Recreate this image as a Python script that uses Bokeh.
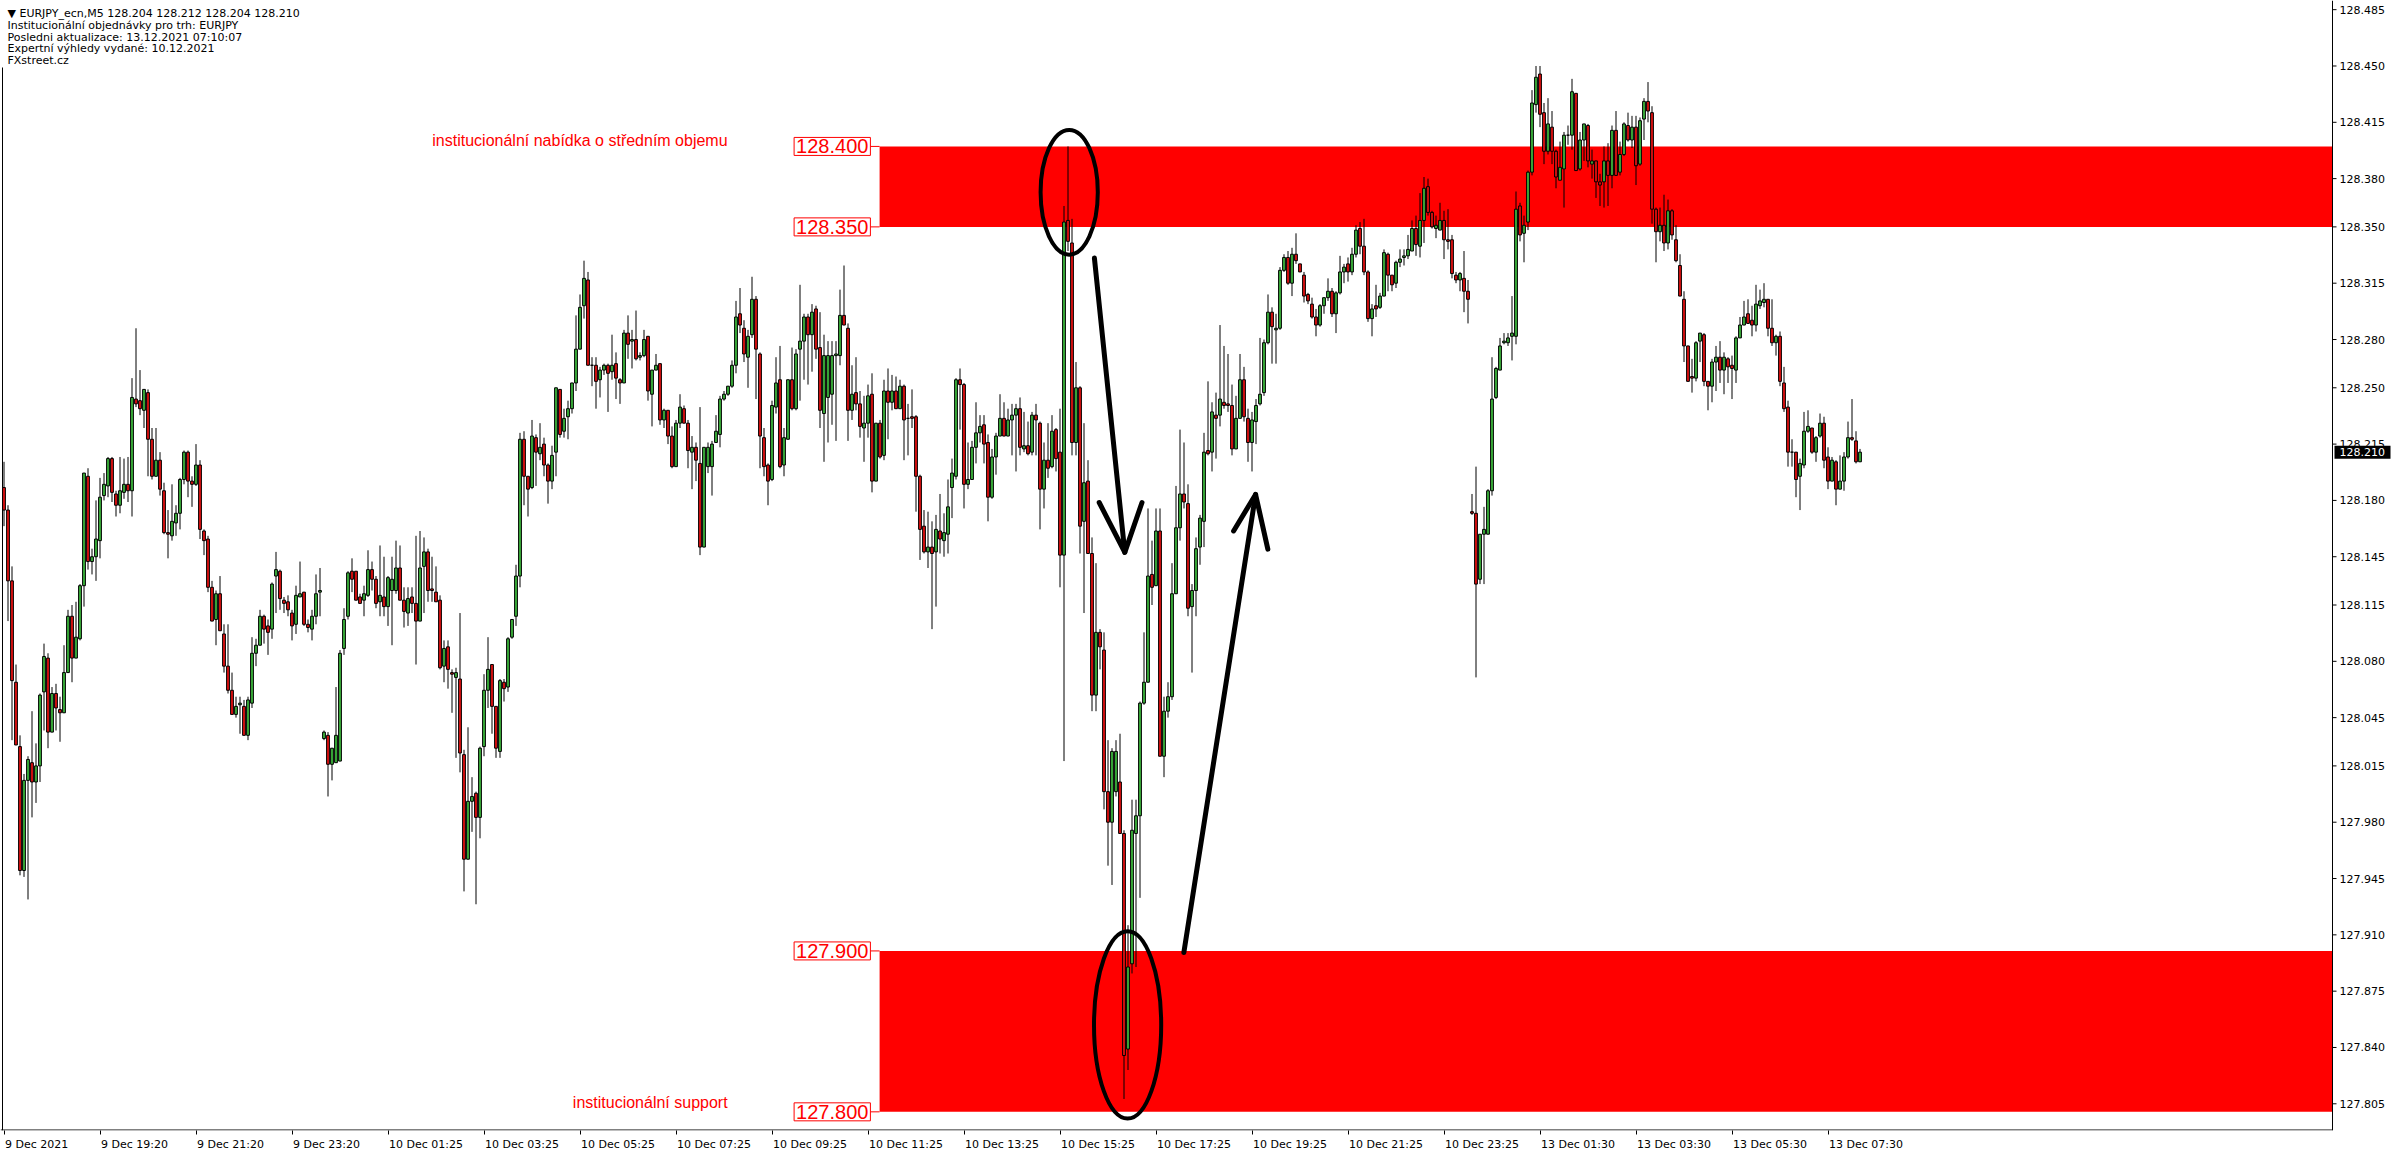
from bokeh.plotting import figure
from bokeh.models import ColumnDataSource, FixedTicker, Label, BoxAnnotation, Range1d
from bokeh.embed import file_html
from bokeh.resources import INLINE
from bokeh.core.properties import value

# ---------------- data (EURJPY M5) ----------------
opens = [
128.188,128.174,128.130,128.067,128.027,127.950,128.006,128.017,128.005,128.015,
128.061,128.082,128.036,128.060,128.050,128.048,128.073,128.108,128.082,128.094,
128.127,128.195,128.142,128.145,128.155,128.183,128.189,128.206,128.184,128.177,
128.185,128.190,128.186,128.243,128.242,128.236,128.247,128.218,128.195,128.205,
128.186,128.160,128.158,128.166,128.172,128.193,128.210,128.192,128.190,128.202,
128.161,128.156,128.126,128.106,128.122,128.097,128.077,128.062,128.047,128.053,
128.052,128.034,128.054,128.085,128.090,128.108,128.102,128.100,128.133,128.136,
128.118,128.117,128.110,128.103,128.120,128.123,128.103,128.100,128.108,128.123,
128.032,128.034,128.016,128.017,128.018,128.088,128.108,128.136,128.136,128.120,
128.118,128.121,128.137,128.131,128.117,128.120,128.114,128.124,128.124,128.138,
128.118,128.110,128.120,128.116,128.105,128.139,128.148,128.125,128.123,128.118,
128.077,128.089,128.073,128.070,128.069,128.022,127.957,127.993,127.998,127.983,
128.027,128.062,128.078,128.052,128.024,128.067,128.064,128.095,128.108,128.133,
128.218,128.195,128.188,128.219,128.209,128.215,128.202,128.192,128.210,128.249,
128.223,128.232,128.237,128.253,128.274,128.301,128.317,128.264,128.264,128.255,
128.261,128.264,128.260,128.265,128.255,128.253,128.284,128.279,128.280,128.269,
128.270,128.282,128.246,128.261,128.265,128.230,128.236,128.220,128.201,128.228,
128.237,128.228,128.210,128.213,128.203,128.151,128.201,128.201,128.216,128.221,
128.243,128.246,128.251,128.264,128.296,128.287,128.269,128.283,128.305,128.271,
128.219,128.202,128.193,128.238,128.255,128.202,128.218,128.255,128.237,128.274,
128.279,128.294,128.283,128.299,128.275,128.234,128.244,128.246,128.270,128.270,
128.295,128.287,128.236,128.247,128.240,128.225,128.228,128.246,128.192,128.228,
128.208,128.248,128.241,128.248,128.237,128.251,128.231,128.232,128.232,128.195,
128.164,128.148,128.151,128.148,128.161,128.155,128.159,128.188,128.195,128.255,
128.252,128.190,128.193,128.213,128.222,128.227,128.216,128.182,128.207,128.220,
128.231,128.220,128.230,128.233,128.237,128.212,128.214,128.210,128.233,128.228,
128.187,128.205,128.201,128.224,128.210,128.146,128.354,128.340,128.216,128.250,
128.167,128.192,128.147,128.059,128.098,128.087,127.999,127.980,127.999,128.005,
127.973,127.839,127.892,127.973,127.984,128.054,128.067,128.134,128.127,128.161,
128.021,128.049,128.058,128.122,128.163,128.184,128.178,128.114,128.124,128.151,
128.167,128.211,128.210,128.233,128.233,128.241,128.240,128.239,128.212,128.231,
128.255,128.231,128.216,128.229,128.240,128.247,128.278,128.297,128.286,128.287,
128.323,128.331,128.315,128.333,128.327,128.320,128.308,128.302,128.294,128.289,
128.301,128.306,128.310,128.296,128.309,128.322,128.327,128.322,128.333,128.349,
128.338,128.322,128.293,128.301,128.300,128.307,128.333,128.320,128.315,128.328,
128.331,128.332,128.335,128.349,128.338,128.354,128.375,128.359,128.349,128.348,
128.354,128.342,128.342,128.320,128.317,128.318,128.310,128.173,128.172,128.131,
128.159,128.159,128.186,128.244,128.261,128.278,128.278,128.282,128.282,128.363,
128.346,128.353,128.384,128.426,128.445,128.421,128.397,128.412,128.397,128.379,
128.386,128.407,128.407,128.433,128.386,128.404,128.413,128.389,128.391,128.378,
128.378,128.391,128.382,128.410,128.384,128.395,128.413,128.404,128.412,128.389,
128.417,128.428,128.421,128.361,128.347,128.351,128.340,128.360,128.342,128.326,
128.305,128.276,128.257,128.256,128.279,128.283,128.254,128.251,128.266,128.269,
128.261,128.268,128.264,128.261,128.281,128.289,128.296,128.292,128.289,128.301,
128.303,128.305,128.287,128.278,128.282,128.253,128.238,128.210,128.210,128.195,
128.202,128.223,128.225,128.210,128.220,128.228,128.207,128.192,128.204,128.187,
128.192,128.207,128.219,128.217,128.204]
highs = [
128.204,128.177,128.139,128.078,128.034,128.010,128.021,128.049,128.029,128.060,
128.091,128.085,128.064,128.066,128.058,128.090,128.112,128.115,128.117,128.128,
128.197,128.200,128.150,128.180,128.194,128.197,128.207,128.207,128.186,128.207,
128.206,128.207,128.256,128.287,128.261,128.249,128.249,128.225,128.225,128.210,
128.191,128.174,128.190,128.177,128.194,128.211,128.211,128.195,128.215,128.205,
128.162,128.158,128.130,128.124,128.133,128.103,128.103,128.073,128.058,128.058,
128.056,128.058,128.095,128.094,128.112,128.109,128.106,128.129,128.148,128.137,
128.120,128.121,128.112,128.127,128.142,128.123,128.106,128.112,128.134,128.138,
128.037,128.036,128.026,128.064,128.087,128.113,128.136,128.144,128.136,128.122,
128.127,128.149,128.142,128.133,128.152,128.145,128.133,128.145,128.155,128.152,
128.126,128.126,128.126,128.158,128.161,128.157,128.150,128.145,128.139,128.121,
128.093,128.093,128.075,128.076,128.110,128.025,128.039,128.008,127.999,128.027,
128.072,128.095,128.078,128.052,128.069,128.069,128.095,128.106,128.140,128.222,
128.223,128.195,128.230,128.221,128.228,128.219,128.203,128.214,128.250,128.249,
128.237,128.242,128.253,128.295,128.308,128.329,128.322,128.269,128.269,128.263,
128.265,128.265,128.283,128.272,128.256,128.286,128.295,128.286,128.298,128.272,
128.286,128.282,128.261,128.271,128.265,128.237,128.236,128.226,128.230,128.246,
128.239,128.230,128.220,128.216,128.238,128.213,128.216,128.217,128.233,128.245,
128.248,128.251,128.267,128.304,128.312,128.292,128.286,128.319,128.307,128.272,
128.225,128.203,128.242,128.269,128.276,128.225,128.255,128.275,128.274,128.314,
128.296,128.296,128.302,128.301,128.297,128.283,128.279,128.279,128.279,128.311,
128.326,128.290,128.264,128.269,128.248,128.245,128.252,128.259,128.228,128.230,
128.255,128.262,128.258,128.257,128.255,128.252,128.240,128.249,128.233,128.196,
128.174,128.173,128.167,128.171,128.184,128.172,128.193,128.206,128.256,128.262,
128.253,128.216,128.217,128.241,128.233,128.233,128.221,128.212,128.222,128.246,
128.241,128.237,128.240,128.240,128.244,128.235,128.229,128.235,128.240,128.229,
128.216,128.228,128.233,128.225,128.237,128.363,128.400,128.355,128.266,128.251,
128.228,128.205,128.157,128.141,128.100,128.098,128.031,128.026,128.031,128.035,
127.975,127.916,127.994,127.994,128.055,128.098,128.175,128.155,128.175,128.175,
128.058,128.067,128.141,128.189,128.224,128.216,128.190,128.128,128.157,128.171,
128.222,128.254,128.241,128.247,128.289,128.276,128.271,128.252,128.245,128.271,
128.263,128.237,128.235,128.243,128.281,128.280,128.308,128.300,128.296,128.325,
128.333,128.335,128.337,128.346,128.327,128.322,128.309,128.306,128.299,128.302,
128.306,128.318,128.312,128.310,128.332,128.327,128.331,128.337,128.351,128.353,
128.355,128.323,128.302,128.314,128.309,128.336,128.334,128.320,128.329,128.336,
128.336,128.345,128.354,128.357,128.371,128.381,128.380,128.360,128.357,128.365,
128.360,128.361,128.345,128.322,128.322,128.335,128.317,128.184,128.201,128.159,
128.176,128.187,128.269,128.263,128.281,128.284,128.284,128.307,128.372,128.365,
128.357,128.385,128.435,128.450,128.450,128.427,128.430,128.422,128.398,128.403,
128.409,128.413,128.442,128.433,128.409,128.414,128.414,128.398,128.391,128.383,
128.400,128.402,128.413,128.422,128.403,128.415,128.421,128.419,128.419,128.418,
128.430,128.440,128.425,128.362,128.362,128.370,128.367,128.361,128.351,128.333,
128.310,128.276,128.268,128.279,128.284,128.284,128.254,128.268,128.276,128.279,
128.272,128.269,128.270,128.282,128.294,128.304,128.305,128.301,128.314,128.311,
128.315,128.305,128.305,128.283,128.285,128.263,128.242,128.218,128.210,128.206,
128.235,128.236,128.225,128.220,128.234,128.232,128.213,128.207,128.205,128.208,
128.210,128.229,128.243,128.223,128.212]
lows = [
128.164,128.105,128.031,128.028,127.947,127.946,127.932,127.983,127.992,128.005,
128.037,128.026,128.036,128.037,128.030,128.048,128.073,128.067,128.082,128.093,
128.114,128.137,128.134,128.130,128.144,128.180,128.182,128.179,128.170,128.172,
128.181,128.179,128.170,128.238,128.233,128.225,128.195,128.193,128.195,128.183,
128.159,128.144,128.155,128.158,128.162,128.190,128.182,128.176,128.189,128.156,
128.146,128.123,128.105,128.090,128.099,128.073,128.060,128.047,128.045,128.035,
128.034,128.031,128.051,128.077,128.090,128.091,128.084,128.094,128.110,128.112,
128.110,128.108,128.093,128.097,128.120,128.102,128.098,128.093,128.103,128.108,
128.031,127.996,128.006,128.017,128.018,128.084,128.106,128.123,128.118,128.116,
128.108,128.120,128.124,128.113,128.108,128.108,128.102,128.090,128.122,128.118,
128.101,128.102,128.110,128.078,128.105,128.110,128.117,128.117,128.117,128.075,
128.067,128.063,128.048,128.020,128.011,127.937,127.957,127.974,127.929,127.970,
128.021,128.051,128.035,128.020,128.020,128.055,128.061,128.094,128.102,128.126,
128.177,128.170,128.187,128.189,128.205,128.195,128.178,128.187,128.195,128.219,
128.219,128.218,128.234,128.248,128.274,128.293,128.264,128.251,128.237,128.244,
128.258,128.235,128.255,128.243,128.240,128.253,128.268,128.262,128.267,128.267,
128.269,128.242,128.226,128.261,128.227,128.225,128.215,128.200,128.201,128.225,
128.228,128.200,128.187,128.192,128.146,128.151,128.197,128.183,128.216,128.213,
128.242,128.245,128.250,128.259,128.284,128.266,128.250,128.281,128.243,128.200,
128.195,128.177,128.192,128.234,128.200,128.195,128.218,128.236,128.236,128.242,
128.255,128.252,128.260,128.268,128.225,128.204,128.216,128.227,128.217,128.264,
128.289,128.217,128.230,128.236,128.219,128.204,128.219,128.185,128.192,128.206,
128.205,128.218,128.236,128.237,128.237,128.205,128.208,128.225,128.173,128.143,
128.147,128.138,128.100,128.114,128.147,128.145,128.147,128.169,128.193,128.224,
128.175,128.187,128.193,128.203,128.216,128.203,128.167,128.181,128.196,128.220,
128.220,128.220,128.208,128.198,128.208,128.210,128.208,128.208,128.208,128.162,
128.175,128.194,128.200,128.198,128.126,128.018,128.335,128.208,128.208,128.147,
128.110,128.147,128.049,128.049,128.075,127.988,127.953,127.941,127.996,127.973,
127.808,127.826,127.886,127.890,127.933,128.053,128.067,128.115,128.127,128.021,
128.008,128.045,128.056,128.122,128.155,128.175,128.108,128.073,128.108,128.140,
128.151,128.208,128.198,128.206,128.226,128.237,128.235,128.208,128.212,128.231,
128.229,128.204,128.198,128.215,128.239,128.245,128.277,128.265,128.265,128.286,
128.322,128.314,128.307,128.327,128.322,128.303,128.302,128.293,128.282,128.288,
128.296,128.304,128.294,128.284,128.308,128.315,128.316,128.320,128.331,128.333,
128.320,128.291,128.282,128.294,128.299,128.307,128.310,128.310,128.312,128.325,
128.326,128.330,128.335,128.332,128.331,128.340,128.357,128.349,128.343,128.348,
128.330,128.336,128.318,128.315,128.310,128.297,128.290,128.171,128.070,128.128,
128.128,128.159,128.183,128.243,128.261,128.277,128.276,128.267,128.277,128.341,
128.328,128.348,128.382,128.421,128.412,128.389,128.395,128.389,128.374,128.379,
128.362,128.401,128.398,128.385,128.385,128.391,128.387,128.380,128.368,128.363,
128.362,128.363,128.374,128.382,128.382,128.394,128.403,128.399,128.376,128.388,
128.404,128.415,128.352,128.328,128.341,128.335,128.336,128.342,128.328,128.307,
128.266,128.254,128.247,128.254,128.266,128.251,128.236,128.241,128.248,128.253,
128.246,128.253,128.243,128.253,128.281,128.289,128.290,128.282,128.285,128.299,
128.300,128.282,128.276,128.270,128.251,128.235,128.201,128.201,128.182,128.174,
128.200,128.222,128.209,128.204,128.219,128.200,128.187,128.192,128.177,128.187,
128.186,128.206,128.217,128.203,128.204]
closes = [
128.174,128.130,128.068,128.028,127.950,128.006,128.019,128.005,128.015,128.059,
128.083,128.036,128.060,128.051,128.048,128.073,128.108,128.082,128.095,128.127,
128.197,128.142,128.145,128.156,128.182,128.190,128.206,128.185,128.177,128.186,
128.190,128.186,128.244,128.240,128.237,128.249,128.218,128.195,128.205,128.187,
128.160,128.159,128.167,128.172,128.193,128.210,128.192,128.190,128.202,128.162,
128.155,128.126,128.105,128.122,128.099,128.077,128.062,128.047,128.052,128.054,
128.034,128.056,128.085,128.090,128.108,128.100,128.098,128.128,128.137,128.119,
128.116,128.112,128.102,128.121,128.122,128.103,128.101,128.108,128.122,128.124,
128.036,128.016,128.026,128.034,128.085,128.106,128.135,128.131,128.118,128.116,
128.122,128.137,128.131,128.116,128.121,128.114,128.132,128.131,128.138,128.118,
128.111,128.119,128.116,128.105,128.138,128.148,128.124,128.124,128.117,128.076,
128.088,128.075,128.072,128.073,128.023,127.957,127.993,127.996,127.983,128.026,
128.062,128.075,128.052,128.026,128.068,128.063,128.094,128.106,128.133,128.218,
128.195,128.187,128.220,128.210,128.213,128.202,128.192,128.208,128.250,128.221,
128.231,128.237,128.253,128.274,128.300,128.318,128.264,128.264,128.254,128.261,
128.264,128.259,128.264,128.256,128.253,128.284,128.277,128.280,128.268,128.270,
128.280,128.248,128.261,128.264,128.230,128.236,128.220,128.201,128.228,128.238,
128.228,128.211,128.213,128.205,128.151,128.213,128.213,128.215,128.223,128.243,
128.246,128.251,128.264,128.294,128.289,128.271,128.282,128.305,128.274,128.220,
128.201,128.192,128.239,128.253,128.201,128.219,128.255,128.237,128.271,128.279,
128.294,128.283,128.297,128.274,128.236,128.270,128.270,128.270,128.271,128.295,
128.289,128.236,128.246,128.240,128.226,128.228,128.245,128.192,128.228,128.207,
128.248,128.241,128.248,128.237,128.251,128.230,128.231,128.231,128.195,128.162,
128.148,128.151,128.147,128.162,128.156,128.160,128.176,128.197,128.255,128.252,
128.190,128.193,128.213,128.222,128.226,128.215,128.182,128.207,128.220,128.231,
128.220,128.230,128.233,128.237,128.213,128.214,128.209,128.233,128.230,128.187,
128.205,128.200,128.223,128.206,128.146,128.353,128.341,128.216,128.250,128.164,
128.191,128.147,128.059,128.098,128.089,127.999,127.980,128.024,128.024,127.973,
127.835,127.890,127.975,127.984,128.054,128.067,128.133,128.126,128.161,128.021,
128.049,128.058,128.122,128.163,128.184,128.179,128.113,128.124,128.150,128.169,
128.210,128.209,128.235,128.231,128.243,128.239,128.239,128.212,128.231,128.255,
128.232,128.216,128.230,128.239,128.246,128.278,128.297,128.288,128.287,128.323,
128.331,128.315,128.333,128.329,128.322,128.307,128.304,128.294,128.289,128.301,
128.306,128.310,128.296,128.309,128.322,128.325,128.322,128.333,128.348,128.338,
128.322,128.293,128.299,128.299,128.307,128.334,128.320,128.314,128.328,128.330,
128.332,128.336,128.349,128.339,128.354,128.374,128.359,128.350,128.351,128.354,
128.342,128.341,128.321,128.317,128.321,128.310,128.305,128.172,128.128,128.159,
128.162,128.186,128.243,128.262,128.276,128.279,128.281,128.284,128.361,128.345,
128.351,128.384,128.427,128.443,128.420,128.397,128.414,128.397,128.381,128.387,
128.407,128.407,128.434,128.385,128.404,128.414,128.391,128.391,128.378,128.376,
128.391,128.382,128.410,128.382,128.395,128.414,128.404,128.412,128.388,128.416,
128.428,128.422,128.361,128.347,128.351,128.340,128.360,128.345,128.329,128.307,
128.276,128.254,128.256,128.278,128.284,128.254,128.251,128.266,128.269,128.261,
128.269,128.263,128.262,128.281,128.289,128.294,128.290,128.289,128.302,128.304,
128.305,128.287,128.278,128.282,128.254,128.237,128.210,128.210,128.193,128.203,
128.223,128.226,128.210,128.219,128.228,128.205,128.192,128.205,128.187,128.192,
128.207,128.219,128.218,128.204,128.210]

time_tick_bars = [0, 24, 48, 72, 96, 120, 144, 168, 192, 216, 240, 264, 288, 312, 336, 360, 384, 408, 432, 456]
time_tick_labels = ["9 Dec 2021", "9 Dec 19:20", "9 Dec 21:20", "9 Dec 23:20", "10 Dec 01:25",
                    "10 Dec 03:25", "10 Dec 05:25", "10 Dec 07:25", "10 Dec 09:25", "10 Dec 11:25",
                    "10 Dec 13:25", "10 Dec 15:25", "10 Dec 17:25", "10 Dec 19:25", "10 Dec 21:25",
                    "10 Dec 23:25", "13 Dec 01:30", "13 Dec 03:30", "13 Dec 05:30", "13 Dec 07:30"]
price_ticks = [128.485, 128.450, 128.415, 128.380, 128.350, 128.315, 128.280, 128.250, 128.215, 128.180,
               128.145, 128.115, 128.080, 128.045, 128.015, 127.980, 127.945, 127.910, 127.875, 127.840, 127.805]

zone_levels = [128.400, 128.350, 127.900, 127.800]
supply_zone = (128.350, 128.400)
demand_zone = (127.800, 127.900)
zone_start_bar = 218.9
last_price = 128.210

header_lines = ["\u25bc EURJPY_ecn,M5  128.204 128.212 128.204 128.210",
                "Institucionální objednávky pro trh: EURJPY",
                "Posledni aktualizace: 13.12.2021 07:10:07",
                "Expertní výhledy vydané: 10.12.2021",
                "FXstreet.cz"]

# ---------------- layout constants ----------------
W, H = 2396, 1154
FRAME_H = 1130
PX = 4.0                       # pixels per bar
X0 = -0.875
X1 = X0 + W / PX
Y1, Y0 = 128.4907, 127.7884    # price at frame top / bottom
PPX = (Y1 - Y0) / FRAME_H      # price per pixel
AXIS_X = X0 + 2332 / PX        # right price-scale line
AX_FONT = "DejaVu Sans"
AX_SIZE = 11

p = figure(width=W, height=H, output_backend="svg", toolbar_location=None, title=None,
           x_range=Range1d(X0, X1), y_range=Range1d(Y0, Y1),
           min_border_left=0, min_border_top=0, min_border_right=0, min_border_bottom=H - FRAME_H)
p.grid.visible = False
p.outline_line_color = None
p.background_fill_color = "white"
p.border_fill_color = "white"
p.yaxis.visible = False

# time axis: tick marks as minor ticks at the bar, labels (left-aligned look) as majors
em = {"0": .636, "1": .636, "2": .636, "3": .636, "4": .636, "5": .636, "6": .636, "7": .636,
      "8": .636, "9": .636, " ": .318, "D": .770, "e": .615, "c": .550, ":": .337}
centers = []
for b, t in zip(time_tick_bars, time_tick_labels):
    wpx = sum(em.get(ch, .6) for ch in t) * AX_SIZE
    centers.append(round(b + (1.0 + wpx / 2.0) / PX, 3))
p.xaxis.ticker = FixedTicker(ticks=centers, minor_ticks=time_tick_bars)
p.xaxis.major_label_overrides = {c: t for c, t in zip(centers, time_tick_labels)}
p.xaxis.major_tick_line_color = None
p.xaxis.major_tick_out = 0
p.xaxis.major_tick_in = 0
p.xaxis.minor_tick_out = 4
p.xaxis.minor_tick_in = 0
p.xaxis.minor_tick_line_color = "black"
p.xaxis.axis_line_color = None
p.xaxis.major_label_standoff = 3
p.xaxis.major_label_text_font = AX_FONT
p.xaxis.major_label_text_font_size = f"{AX_SIZE}px"
p.xaxis.major_label_text_color = "black"

# chart borders (bottom, left) and the price scale on the right
p.segment(x0=[X0, X0 + 2 / PX, AXIS_X], y0=[Y0 + 0.5 * PPX, Y0, Y0],
          x1=[AXIS_X, X0 + 2 / PX, AXIS_X], y1=[Y0 + 0.5 * PPX, Y1 - 67 * PPX, Y1],
          line_color="black", line_width=1)
p.segment(x0=[AXIS_X] * len(price_ticks), y0=price_ticks,
          x1=[AXIS_X + 4 / PX] * len(price_ticks), y1=price_ticks, line_color="black", line_width=1)
p.text(x=[AXIS_X + 7 / PX] * len(price_ticks), y=price_ticks, text=[f"{t:.3f}" for t in price_ticks],
       text_align="left", text_baseline="middle", text_font=value(AX_FONT),
       text_font_size=f"{AX_SIZE}px", text_color="black")

# zones
for lo, hi in (supply_zone, demand_zone):
    p.add_layout(BoxAnnotation(left=zone_start_bar, right=AXIS_X, bottom=lo, top=hi,
                               fill_color="#ff0000", fill_alpha=1.0, line_color=None, level="underlay"))

# candles
n = len(opens)
up = [closes[i] >= opens[i] for i in range(n)]
src = ColumnDataSource(dict(
    x=list(range(n)), high=highs, low=lows,
    top=[max(opens[i], closes[i]) for i in range(n)],
    bottom=[min(opens[i], closes[i]) for i in range(n)],
    color=["#3cb43c" if u else "#e01010" for u in up]))
p.segment(x0="x", y0="low", x1="x", y1="high", source=src, line_color="black", line_width=1)
p.vbar(x="x", width=0.7, top="top", bottom="bottom", source=src, fill_color="color",
       line_color="black", line_width=1)

# zone price boxes and connectors
for lv in zone_levels:
    p.segment(x0=[216.6], y0=[lv], x1=[zone_start_bar], y1=[lv], line_color="#ff0000", line_width=1)
    p.add_layout(Label(x=216.6, y=lv, text=f"{lv:.3f}", text_align="right", text_baseline="middle",
                       text_font="Liberation Sans", text_font_size="20px", text_color="#ff0000",
                       background_fill_color="white", border_line_color="#ff0000",
                       border_line_width=1, padding=2))

p.add_layout(Label(x=180.9, y=128.404, text="institucionální nabídka o středním objemu",
                   text_align="right", text_baseline="middle", text_font="Liberation Sans",
                   text_font_size="16px", text_color="#ff0000"))
p.add_layout(Label(x=180.9, y=127.806, text="institucionální support",
                   text_align="right", text_baseline="middle", text_font="Liberation Sans",
                   text_font_size="16px", text_color="#ff0000"))

# hand-drawn marks: ellipses and arrows
p.ellipse(x=[266.3, 280.9], y=[128.3715, 127.854], width=[14.3, 16.8], height=[0.0775, 0.1164],
          fill_color=None, line_color="black", line_width=4)
p.multi_line(xs=[[272.6, 280.2], [273.8, 280.2, 284.5], [294.96, 312.9], [307.4, 312.9, 315.96]],
             ys=[[128.3306, 128.1477], [128.1787, 128.1477, 128.1787],
                 [127.899, 128.1837], [128.161, 128.1837, 128.1497]],
             line_color="black", line_width=5, line_cap="round", line_join="round")

# header text
for k, line in enumerate(header_lines):
    p.add_layout(Label(x=7, y=FRAME_H - 13.3 - 11.7 * k, x_units="screen", y_units="screen", text=line,
                       text_align="left", text_baseline="middle", text_font=AX_FONT,
                       text_font_size="11px", text_color="black"))

# current price tag on the price scale
p.quad(left=[AXIS_X + 2 / PX], right=[AXIS_X + 58 / PX], bottom=[last_price - 6.5 * PPX],
       top=[last_price + 6.5 * PPX], fill_color="black", line_color=None)
p.text(x=[AXIS_X + 7 / PX], y=[last_price], text=[f"{last_price:.3f}"], text_align="left",
       text_baseline="middle", text_font=value(AX_FONT), text_font_size=f"{AX_SIZE}px",
       text_color="white")

open("out.html", "w").write(file_html(p, INLINE))
